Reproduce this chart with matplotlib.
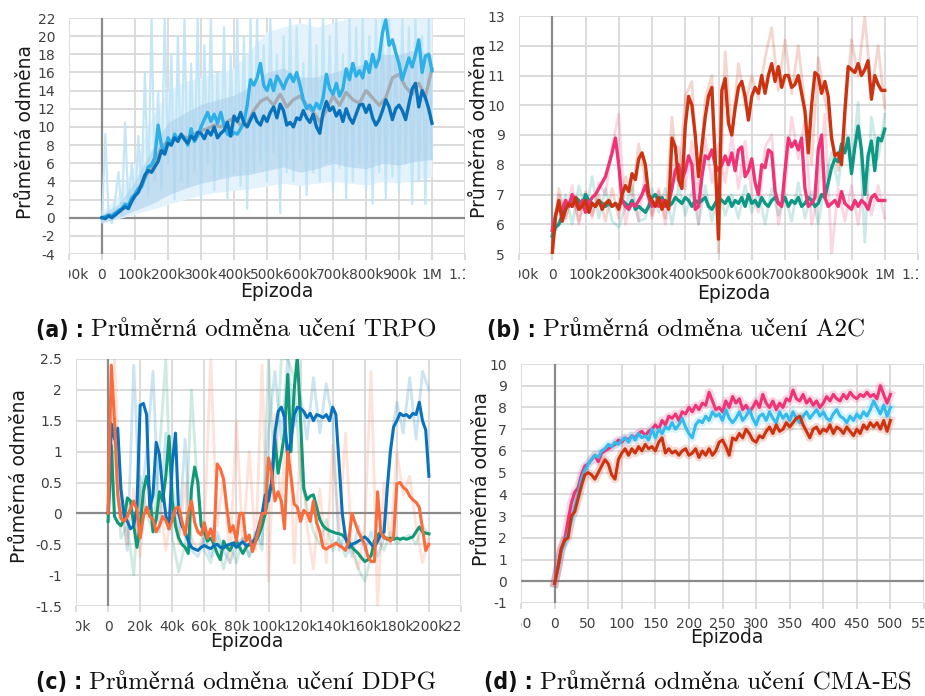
import numpy as np
import matplotlib
matplotlib.use("Agg")
import matplotlib.pyplot as plt
from matplotlib.transforms import Bbox, TransformedBbox

# ---------------- (a) TRPO ----------------
trpo_dark = [0.0, -0.1, 0.2, 0.0, 0.3, 0.6, 0.9, 1.2, 1.0, 1.8, 2.4, 2.8, 3.7, 4.7, 5.2, 5.0, 5.6, 6.2, 7.4, 7.0,
             8.2, 8.0, 8.8, 8.4, 9.2, 8.6, 8.2, 9.0, 8.6, 9.4, 9.3, 8.7, 9.6, 9.1, 10.0, 8.8, 9.3, 9.6, 10.5, 9.0,
             11.2, 10.6, 11.6, 10.4, 10.0, 10.8, 11.5, 10.6, 10.2, 11.2, 10.6, 11.6, 12.2, 11.0, 12.5, 11.8, 10.2, 10.5, 10.0, 11.0,
             10.8, 11.8, 11.0, 10.5, 11.4, 10.0, 9.3, 11.6, 12.8, 11.8, 12.2, 11.2, 11.8, 10.6, 12.0, 11.0, 10.4, 11.4, 12.4, 12.5,
             11.6, 12.4, 11.0, 10.2, 10.8, 11.8, 13.0, 12.2, 10.8, 12.0, 12.4, 11.8, 10.8, 12.5, 14.2, 14.8, 12.2, 14.0, 13.2, 12.0,
             10.4]
trpo_light = [0.0, 0.1, 0.3, 0.2, 0.5, 0.8, 1.0, 1.5, 1.3, 2.2, 2.6, 3.2, 3.4, 4.4, 5.6, 5.8, 6.6, 10.2, 8.0, 7.2,
              8.8, 8.0, 9.2, 8.6, 9.0, 8.8, 8.0, 9.8, 8.4, 9.0, 10.0, 10.8, 11.6, 10.6, 11.4, 10.4, 11.6, 10.2, 9.2, 9.0,
              9.4, 9.2, 9.8, 10.4, 12.4, 15.2, 14.6, 15.4, 17.0, 14.6, 14.0, 15.2, 14.0, 15.6, 15.0, 14.2, 15.2, 15.8, 15.0, 16.0,
              14.6, 13.0, 12.0, 12.4, 11.8, 12.6, 12.0, 13.2, 15.8, 14.2, 13.6, 14.8, 13.4, 14.2, 16.4, 15.2, 17.0, 15.6, 16.2, 15.4,
              17.2, 16.0, 18.0, 16.6, 17.6, 20.4, 21.8, 19.0, 19.6, 18.2, 17.0, 15.2, 16.4, 17.6, 16.6, 18.0, 19.6, 16.0, 17.8, 18.0,
              16.2]
trpo_gray = [0.0, 0.2, 0.4, 0.9, 1.4, 2.5, 3.8, 5.0, 6.0, 7.8, 8.4, 8.6, 9.0, 8.8, 9.2, 9.6, 9.8, 10.2, 10.0, 10.6,
             11.0, 10.2, 10.4, 11.8, 12.8, 13.2, 12.4, 13.6, 12.2, 13.0, 13.4, 12.4, 11.6, 10.6, 11.8, 13.4, 12.4, 13.8, 13.0, 12.6,
             14.0, 13.2, 12.4, 13.2, 15.4, 15.8, 14.4, 13.6, 14.8, 13.4, 16.4]
trpo_raw = [-0.5, 9.2, 0.3, -0.6, 2.0, 5.0, 0.2, 10.5, 1.0, 6.0, 1.5, 9.0, 3.0, 16.0, 2.5, 22.0, 4.0, 14.0, 3.0, 22.0,
            6.0, 18.0, 2.0, 20.0, 4.0, 22.0, 3.5, 17.0, 5.0, 22.0, 2.0, 19.0, 6.0, 22.0, 3.0, 16.0, 4.5, 21.0, 2.0, 18.0,
            5.0, 22.0, 3.5, 20.0, 1.0, 22.0, 5.0, 22.0, 6.0, 19.0, 4.0, 22.0, 7.0, 18.0, 0.5, 20.0, 5.0, 22.0, 4.0, 21.0,
            6.5, 17.0, 2.5, 22.0, 5.0, 19.0, 4.0, 22.0, 6.0, 20.0, 3.0, 22.0, 5.5, 18.0, 2.0, 22.0, 4.0, 21.0, 6.0, 22.0,
            3.0, 20.0, 1.5, 22.0, 5.0, 22.0, 2.0, 22.0, 4.5, 19.0, 3.0, 22.0, 6.0, 21.0, 1.5, 22.0, 4.0, 20.0, 1.5, 22.0,
            6.5]
# inner (darker) and outer (lighter) spread bands, every 50k
trpo_band_lo = [-0.6, 0.0, 0.8, 1.5, 2.5, 3.2, 3.8, 4.2, 4.6, 4.8, 5.2, 5.6, 5.0, 5.4, 6.0, 5.6, 5.4, 6.0, 5.8, 6.2, 6.4]
trpo_band_hi = [0.4, 1.5, 4.0, 7.5, 10.5, 11.5, 12.5, 13.0, 13.5, 14.5, 16.0, 16.5, 15.5, 15.5, 16.0, 16.5, 17.0, 18.0, 18.0, 18.5, 18.0]
trpo_outer_lo = [-0.5, -0.1, 0.4, 0.9, 1.5, 2.0, 2.5, 2.8, 3.0, 3.2, 3.5, 3.8, 3.5, 3.8, 4.0, 3.8, 3.6, 4.0, 3.8, 4.2, 4.5]
trpo_outer_hi = [0.6, 2.5, 6.0, 11.0, 14.0, 15.0, 15.5, 16.0, 16.5, 18.5, 20.5, 21.0, 21.5, 21.0, 21.5, 22.0, 22.0, 22.0, 22.0, 22.0, 22.0]

# ---------------- (b) A2C ----------------
a2c_red = [5.0, 6.3, 6.8, 6.1, 6.5, 6.7, 6.6, 6.9, 6.5, 6.6, 6.8, 6.4, 6.7, 6.6, 6.8, 6.5, 6.7, 6.8, 6.6, 6.7,
           6.5, 7.0, 7.3, 7.1, 7.7, 7.5, 8.2, 8.4, 8.0, 7.0, 6.8, 6.6, 6.9, 6.5, 6.8, 6.5, 8.9, 8.6, 7.5, 7.2,
           9.3, 10.3, 10.0, 9.0, 7.6, 8.6, 9.6, 10.3, 10.6, 8.2, 5.5, 10.5, 10.9, 9.4, 9.0, 9.9, 10.6, 10.8, 10.3, 9.5,
           10.3, 10.6, 10.4, 11.0, 10.4, 11.0, 11.4, 10.8, 11.3, 10.6, 11.0, 11.0, 10.6, 10.7, 11.0, 10.4, 9.8, 8.4, 10.0, 11.1,
           11.0, 10.4, 10.8, 10.3, 8.9, 8.3, 8.4, 8.0, 9.8, 11.3, 11.2, 11.1, 11.4, 11.0, 11.2, 11.5, 10.2, 11.0, 10.7, 10.5,
           10.5]
a2c_pink = [5.8, 6.3, 6.6, 6.5, 6.8, 6.6, 7.0, 6.7, 6.5, 6.8, 6.4, 6.7, 6.9, 7.0, 7.2, 7.4, 7.6, 8.0, 8.4, 8.9,
            8.0, 6.8, 6.6, 6.5, 6.7, 6.6, 6.8, 7.0, 7.3, 6.9, 6.6, 6.7, 6.6, 6.8, 6.6, 6.7, 7.2, 7.8, 8.0, 7.5,
            7.8, 8.3, 8.0, 6.5, 6.6, 7.6, 8.3, 8.2, 8.5, 8.0, 7.8, 8.0, 8.3, 8.0, 8.4, 7.8, 8.5, 8.6, 7.6, 7.8,
            8.2, 7.4, 7.0, 8.0, 7.9, 8.5, 8.4, 7.1, 6.7, 6.6, 7.8, 8.9, 8.6, 8.8, 8.5, 8.9, 7.2, 6.6, 6.7, 6.9,
            8.5, 9.0, 6.9, 6.6, 6.7, 6.8, 6.6, 7.1, 6.7, 6.6, 6.5, 6.8, 6.6, 6.8, 6.7, 6.5, 6.9, 7.0, 6.8, 6.8,
            6.8]
a2c_teal = [5.6, 5.9, 6.0, 6.3, 6.6, 6.7, 6.6, 6.9, 6.8, 6.6, 7.0, 6.8, 6.7, 6.6, 6.8, 6.7, 6.6, 6.7, 6.6, 6.7,
            6.6, 6.8, 6.7, 6.6, 6.8, 6.5, 6.6, 6.5, 6.4, 6.6, 6.9, 7.0, 6.8, 6.9, 6.7, 6.6, 6.7, 6.9, 6.8, 6.7,
            6.9, 6.8, 6.6, 6.8, 6.7, 6.8, 6.9, 6.6, 6.5, 6.7, 6.9, 6.8, 6.7, 6.9, 6.6, 6.8, 6.7, 6.9, 6.6, 7.0,
            6.7, 6.8, 6.6, 6.9, 6.7, 6.6, 6.8, 6.9, 6.7, 6.7, 6.9, 6.6, 6.8, 6.7, 6.9, 6.6, 6.7, 6.9, 6.8, 6.6,
            6.7, 7.0, 6.9, 7.4, 7.9, 8.2, 8.1, 8.7, 8.4, 8.9, 7.7, 8.6, 9.3, 8.5, 7.0, 8.3, 8.8, 7.8, 8.9, 8.8,
            9.2]
a2c_red_raw = [5.0, 7.2, 6.2, 7.0, 6.1, 7.1, 6.3, 7.0, 6.1, 7.2, 6.2, 7.6, 7.0, 8.7, 7.5, 6.3, 7.1, 6.2, 9.6, 7.3,
               10.3, 10.8, 7.2, 10.2, 11.0, 5.0, 11.8, 9.0, 11.4, 10.0, 11.0, 10.2, 11.6, 12.6, 10.5, 12.2, 10.4, 12.0, 10.0, 8.0,
               11.6, 10.2, 9.0, 7.8, 9.5, 12.2, 11.0, 13.0, 10.4, 12.0, 9.9]
a2c_pink_raw = [5.2, 7.0, 6.2, 7.3, 6.0, 7.0, 6.2, 7.4, 7.0, 8.6, 9.7, 6.0, 7.0, 6.1, 7.8, 6.2, 7.2, 6.0, 7.6, 8.6,
                7.2, 8.8, 6.0, 8.9, 7.4, 8.7, 7.4, 9.0, 7.2, 8.8, 7.0, 6.4, 8.6, 9.0, 6.0, 7.2, 9.6, 8.2, 9.5, 6.0,
                7.0, 9.7, 5.0, 7.2, 6.1, 7.3, 6.0, 7.5, 6.3, 7.3, 6.2]
a2c_teal_raw = [5.4, 6.1, 7.0, 6.0, 7.3, 6.4, 7.6, 6.2, 7.2, 6.1, 5.9, 6.6, 7.3, 6.1, 6.2, 7.2, 6.4, 7.2, 6.0, 7.3,
                6.3, 7.1, 6.0, 7.3, 6.1, 7.2, 6.3, 7.0, 6.2, 7.3, 6.4, 7.1, 6.0, 7.2, 6.3, 7.0, 6.1, 7.4, 6.2, 7.1,
                6.0, 7.4, 8.4, 7.3, 9.2, 7.8, 10.1, 5.4, 9.6, 8.2, 9.7]

# ---------------- (c) DDPG ----------------
ddpg_blue = [0.0, 1.45, 1.2, 1.38, 0.4, -0.03, -0.13, -0.25, -0.2, 0.1, 1.75, 1.78, 1.6, 0.08, 0.3, 1.15, 0.95, 0.4, -0.03, -0.25,
             0.8, 1.3, 0.0, -0.2, -0.3, -0.45, -0.55, -0.58, -0.6, -0.55, -0.52, -0.55, -0.57, -0.52, -0.5, -0.55, -0.56, -0.52, -0.5, -0.48,
             -0.55, -0.5, -0.46, -0.52, -0.5, -0.47, -0.4, -0.2, 0.0, 0.3, 0.2, 0.5, 1.3, 1.65, 1.72, 1.55, 0.9, 1.2, 1.6, 1.72,
             1.7, 1.65, 1.55, 1.62, 1.5, 1.6, 1.58, 1.55, 1.6, 1.5, 1.72, 1.6, 0.8, 0.0, -0.4, -0.55, -0.5, -0.48, -0.45, -0.42,
             -0.38, -0.43, -0.5, -0.55, -0.45, -0.35, -0.3, 0.4, 1.0, 1.4, 1.5, 1.62, 1.58, 1.6, 1.55, 1.62, 1.6, 1.8, 1.5, 1.35,
             0.6]
ddpg_teal = [-0.13, 1.1, -0.05, -0.15, -0.2, -0.1, 0.25, 0.2, -0.2, -0.55, -0.2, 0.35, 0.6, 0.35, -0.3, -0.1, 0.35, 0.2, 0.6, 1.25,
             0.2, -0.2, -0.4, -0.5, -0.55, -0.65, 0.4, 0.75, 0.5, -0.2, -0.3, -0.45, -0.4, -0.5, -0.65, -0.75, -0.45, -0.55, -0.6, -0.5,
             -0.45, -0.55, -0.65, -0.55, -0.5, -0.55, -0.45, -0.35, -0.2, 0.0, 0.3, 0.5, 1.2, 0.65, 0.95, 1.3, 2.25, 1.0, 2.0, 2.55,
             1.5, 0.4, 0.22, 0.28, 0.3, 0.1, -0.1, -0.2, -0.25, -0.28, -0.3, -0.32, -0.33, -0.35, -0.4, -0.45, -0.55, -0.6, -0.65, -0.72,
             -0.78, -0.75, -0.68, -0.45, -0.35, -0.3, -0.38, -0.42, -0.4, -0.42, -0.4, -0.42, -0.4, -0.42, -0.4, -0.38, -0.3, -0.22, -0.3, -0.32,
             -0.33]
ddpg_orange = [0.0, 2.4, 1.5, 0.3, -0.08, -0.13, -0.05, 0.08, 0.2, 0.05, -0.4, -0.05, 0.1, -0.05, -0.1, -0.3, -0.2, -0.05, -0.12, -0.25,
               -0.1, 0.08, 0.1, -0.12, -0.35, 0.0, 0.2, -0.15, -0.3, -0.35, -0.15, -0.4, -0.25, -0.45, 0.8, 0.72, 0.55, 0.1, -0.3, -0.2,
               -0.45, 0.0, 0.0, -0.45, -0.35, -0.62, -0.45, -0.25, 0.0, 0.0, 0.9, 0.65, 0.2, 0.35, 0.2, -0.25, 1.0, 0.6, 0.15, 0.1,
               -0.13, 0.05, 0.0, -0.13, 0.2, -0.15, -0.3, -0.55, -0.58, -0.54, -0.52, -0.48, -0.52, -0.55, -0.6, -0.45, 0.0, -0.15, -0.3, -0.4,
               -0.5, -0.7, -0.78, -0.78, 0.35, -0.3, -0.4, -0.4, -0.45, -0.38, 0.48, 0.5, 0.42, 0.38, 0.28, 0.22, 0.18, 0.1, -0.25, -0.6,
               -0.5]
ddpg_blue_raw = [0.0, 1.4, 0.2, -0.6, 2.4, 0.0, 1.0, 2.3, -0.3, 1.3, 0.5, -0.4, 1.2, -0.6, -0.7, -0.4, -0.7, -0.3, -0.6, -0.8,
                 -0.5, -0.4, -0.7, -0.3, -0.5, 1.3, 2.3, 1.2, 2.5, 1.4, 1.9, 1.2, 2.2, 1.3, 2.1, 1.5, -0.6, -0.3, -0.7, -0.2,
                 -0.6, -0.3, -0.7, -0.4, 1.1, 1.8, 1.3, 2.2, 1.2, 2.3, 2.0]
ddpg_teal_raw = [0.0, 1.0, -0.4, -0.2, -1.0, 0.6, 0.0, -0.3, 1.0, 2.5, -0.4, -0.95, -0.5, 2.0, 0.3, -0.6, -0.8, -0.4, -0.9, -0.5,
                 -0.8, -0.4, -0.7, -0.3, -0.6, 2.5, 0.5, 2.5, 2.5, 2.2, 0.6, 0.1, -0.3, -0.5, -0.1, -0.6, -0.4, -0.7, -0.5, -0.9,
                 -1.1, -0.7, -0.4, -0.6, -0.3, -0.5, -0.4, -0.35, -0.5, -0.2, -0.35]
ddpg_orange_raw = [0.0, 2.5, 0.2, -0.5, 0.4, -0.7, 0.6, -0.3, 0.3, -0.6, 0.2, -0.5, 0.5, -0.4, -0.6, -0.3, 2.5, -0.2, 0.6, -0.8,
                   1.5, -0.5, 1.0, -0.6, 2.4, -1.1, 1.6, 0.0, 2.2, -0.8, 1.2, -0.2, -0.9, 0.4, -0.8, 1.1, -0.3, 1.3, -0.6, -0.9,
                   -0.2, 2.3, -1.5, 0.5, -0.5, 1.0, 0.3, 0.6, -0.2, -0.8, -0.4]

# ---------------- (d) CMA-ES ----------------
cma_red = [-0.1, 0.6, 1.5, 1.9, 2.0, 3.0, 3.2, 3.8, 4.4, 4.9, 5.0, 4.9, 4.7, 5.0, 5.3, 5.6, 5.4, 4.9, 4.7, 5.6,
           5.9, 6.1, 5.8, 6.1, 5.9, 6.2, 6.0, 6.3, 6.1, 6.2, 6.0, 6.4, 6.6, 5.9, 6.1, 5.9, 6.0, 5.8, 6.0, 6.1,
           5.8, 5.9, 6.1, 5.7, 6.0, 5.8, 6.1, 5.8, 6.0, 6.4, 6.5, 6.2, 5.8, 6.6, 6.5, 6.8, 6.6, 7.0, 6.8, 6.5,
           6.4, 6.7, 6.6, 6.9, 7.1, 6.8, 7.2, 6.9, 7.0, 7.3, 7.1, 7.3, 7.5, 7.6, 7.2, 6.9, 6.6, 7.0, 7.1, 6.8,
           7.0, 6.9, 7.2, 6.8, 7.1, 7.0, 6.8, 7.1, 6.9, 6.7, 7.0, 6.8, 7.2, 7.0, 7.3, 7.1, 7.3, 7.0, 7.4, 6.9,
           7.4]
cma_pink = [-0.1, 0.7, 1.5, 1.9, 2.8, 3.6, 4.1, 4.3, 4.9, 5.3, 5.4, 5.6, 5.8, 5.5, 5.9, 6.0, 6.1, 6.2, 6.3, 6.5,
            6.4, 6.6, 6.5, 6.7, 6.6, 6.8, 6.9, 6.7, 6.9, 7.0, 7.2, 7.0, 7.4, 7.2, 7.6, 7.5, 7.7, 7.4, 7.8, 7.7,
            8.0, 7.8, 8.1, 7.9, 8.2, 8.1, 8.7, 8.3, 7.9, 8.0, 7.8, 8.3, 8.0, 8.5, 8.2, 8.4, 7.9, 8.1, 7.8, 8.0,
            8.3, 8.0, 8.6, 8.2, 8.0, 8.3, 7.9, 8.2, 8.0, 8.4, 8.3, 8.8, 8.4, 8.3, 8.6, 8.2, 8.4, 8.1, 8.3, 8.0,
            8.2, 8.5, 8.3, 8.6, 8.4, 8.3, 8.6, 8.4, 8.7, 8.5, 8.4, 8.6, 8.5, 8.7, 8.5, 8.6, 8.4, 9.0, 8.6, 8.2,
            8.6]
cma_blue = [-0.1, 0.6, 1.4, 1.8, 2.2, 2.8, 3.4, 4.0, 4.7, 5.1, 5.4, 5.6, 5.8, 5.7, 6.0, 6.1, 6.3, 6.2, 6.4, 6.3,
            6.5, 6.6, 6.4, 6.7, 6.5, 6.8, 6.6, 6.7, 6.5, 7.0, 6.6, 7.0, 6.8, 7.1, 7.0, 7.3, 7.0, 7.2, 7.5, 7.1,
            6.8, 6.6, 7.2, 7.4, 7.3, 7.6, 7.4, 7.8, 7.6, 7.7, 7.4, 7.9, 7.5, 7.3, 7.5, 7.8, 7.4, 7.6, 7.9, 7.5,
            7.2, 7.6, 7.7, 7.4, 7.8, 7.5, 7.3, 7.8, 7.5, 7.7, 7.4, 7.8, 7.5, 7.3, 7.6, 7.8, 7.5, 7.7, 7.9, 7.6,
            7.8, 7.5, 7.4, 7.7, 7.9, 7.6, 7.5, 7.3, 7.6, 7.4, 7.7, 7.5, 7.8, 7.6, 7.9, 8.3, 8.0, 7.7, 8.1, 7.6,
            8.0]

# tick labels
k_labels = ["-100k", "0", "100k", "200k", "300k", "400k", "500k", "600k", "700k", "800k", "900k", "1M", "1.1M"]
ddpg_labels = ["-20k", "0", "20k", "40k", "60k", "80k", "100k", "120k", "140k", "160k", "180k", "200k", "220k"]
cma_labels = ["-50", "0", "50", "100", "150", "200", "250", "300", "350", "400", "450", "500", "550"]
ylab_text = "Průměrná odměna"
xlab_text = "Epizoda"
captions = [("(a)", "Průměrná odměna učení TRPO"), ("(b)", "Průměrná odměna učení A2C"),
            ("(c)", "Průměrná odměna učení DDPG"), ("(d)", "Průměrná odměna učení CMA-ES")]

W, H = 925, 696
fig = plt.figure(figsize=(W / 100, H / 100), dpi=100)
fig.patch.set_facecolor("white")

GRID = "#d9d9d9"
ZERO = "#8a8a8a"
TICKC = "#404040"


def ax_px(l, t, r, b):
    return fig.add_axes([l / W, 1 - b / H, (r - l) / W, (b - t) / H])


def style(ax, xlim, ylim, xticks, xlabels, yticks, ylabels, ylab_x, ylab_y, xlab_x, xlab_y, zero_h=True):
    ax.set_xlim(xlim)
    ax.set_ylim(ylim)
    ax.set_xticks(xticks)
    ax.set_xticklabels(xlabels)
    ax.set_yticks(yticks)
    ax.set_yticklabels(ylabels)
    for s in ax.spines.values():
        s.set_visible(False)
    ax.grid(True, color=GRID, lw=1.3)
    ax.set_axisbelow(True)
    ax.tick_params(axis="x", length=4, color=GRID, width=1.3, pad=6, labelsize=10, labelcolor=TICKC)
    ax.tick_params(axis="y", length=0, pad=10, labelsize=10, labelcolor=TICKC)
    ax.axvline(0, color=ZERO, lw=1.6, zorder=1)
    if zero_h:
        ax.axhline(0, color=ZERO, lw=1.6, zorder=1)
    ax.set_ylabel(ylab_text, fontsize=13.5, va="center", color="#1a1a1a")
    ax.yaxis.set_label_coords(ylab_x, ylab_y)
    ax.set_xlabel(xlab_text, fontsize=13.5, va="center", color="#1a1a1a")
    ax.xaxis.set_label_coords(xlab_x, xlab_y)
    clip = TransformedBbox(Bbox([[0, -2], [1, 0.5]]), ax.transAxes)
    for t in ax.get_xticklabels():
        t.set_clip_box(clip)
        t.set_clip_on(True)


# ---- (a)
axa = ax_px(69, 18, 465, 254)
xband = np.linspace(0, 1_000_000, len(trpo_band_lo))
axa.fill_between(xband, trpo_outer_lo, trpo_outer_hi, color="#e3f2fb", lw=0, zorder=2)
axa.plot(np.linspace(0, 1_000_000, len(trpo_raw)), trpo_raw, color="#bfe4f7", lw=1.6, alpha=0.9, zorder=2)
axa.fill_between(xband, trpo_band_lo, trpo_band_hi, color="#a9cfea", alpha=0.55, lw=0, zorder=2)
axa.plot(np.linspace(0, 1_000_000, len(trpo_gray)), trpo_gray, color="#a3acb4", lw=2.4, zorder=3)
axa.plot(np.linspace(0, 1_000_000, len(trpo_light)), trpo_light, color="#2db0e6", lw=2.4, zorder=4)
axa.plot(np.linspace(0, 1_000_000, len(trpo_dark)), trpo_dark, color="#0a72bb", lw=2.4, zorder=5)
style(axa, (-100000, 1100000), (-4, 22), np.arange(-100000, 1100001, 100000), k_labels,
      np.arange(-4, 23, 2), [str(v) for v in range(-4, 23, 2)], -0.111, 0.517, 0.525, -0.157)

# ---- (b)
axb = ax_px(519, 16, 918, 254)
for raw, col in [(a2c_teal_raw, "#009988"), (a2c_pink_raw, "#ee3377"), (a2c_red_raw, "#cc3311")]:
    axb.plot(np.linspace(0, 1_000_000, len(raw)), raw, color=col, lw=2.0, alpha=0.2, zorder=2)
axb.plot(np.linspace(0, 1_000_000, len(a2c_teal)), a2c_teal, color="#0e9784", lw=2.4, zorder=3)
axb.plot(np.linspace(0, 1_000_000, len(a2c_pink)), a2c_pink, color="#ee3377", lw=2.4, zorder=4)
axb.plot(np.linspace(0, 1_000_000, len(a2c_red)), a2c_red, color="#cc3311", lw=2.4, zorder=5)
style(axb, (-100000, 1100000), (5, 13), np.arange(-100000, 1100001, 100000), k_labels,
      np.arange(5, 14, 1), [str(v) for v in range(5, 14)], -0.100, 0.517, 0.539, -0.164, zero_h=False)

# ---- (c)
axc = ax_px(76, 359, 461, 606)
for raw, col in [(ddpg_teal_raw, "#119977"), (ddpg_blue_raw, "#0077bb"), (ddpg_orange_raw, "#ff7043")]:
    axc.plot(np.linspace(0, 200_000, len(raw)), raw, color=col, lw=2.0, alpha=0.2, zorder=2)
axc.plot(np.linspace(0, 200_000, len(ddpg_teal)), ddpg_teal, color="#119977", lw=2.2, zorder=3)
axc.plot(np.linspace(0, 200_000, len(ddpg_blue)), ddpg_blue, color="#0a72bb", lw=2.2, zorder=4)
axc.plot(np.linspace(0, 200_000, len(ddpg_orange)), ddpg_orange, color="#fb6c3c", lw=2.2, zorder=5)
style(axc, (-20000, 220000), (-1.5, 2.5), np.arange(-20000, 220001, 20000), ddpg_labels,
      np.arange(-1.5, 2.51, 0.5), ["-1.5", "-1", "-0.5", "0", "0.5", "1", "1.5", "2", "2.5"],
      -0.148, 0.527, 0.444, -0.142)

# ---- (d)
axd = ax_px(521, 364, 924, 603)
xd = np.linspace(0, 500, len(cma_red))
for ser, col, z in [(cma_pink, "#ee3377", 3), (cma_blue, "#33bbee", 4), (cma_red, "#cc3311", 5)]:
    axd.plot(xd, ser, color=col, lw=6, alpha=0.18, zorder=2)
    axd.plot(xd, ser, color=col, lw=2.2, zorder=z)
style(axd, (-50, 550), (-1, 10), np.arange(-50, 551, 50), cma_labels,
      np.arange(-1, 11, 1), [str(v) for v in range(-1, 11)], -0.099, 0.519, 0.511, -0.146)

# ---- captions
renderer = fig.canvas.get_renderer()
cap_pos = [(36, 330), (487, 330), (36, 683), (484, 683)]
for (lab, txt), (cx, cy) in zip(captions, cap_pos):
    t1 = fig.text(cx / W, 1 - cy / H, lab + " :", fontsize=16.5, fontweight="bold", fontstretch="condensed",
                  family=["DejaVu Sans"], va="center", color="#111111")
    bb = t1.get_window_extent(renderer)
    fig.text((bb.x1 + 7) / W, 1 - cy / H, txt, fontsize=18,
             family=["cmr10", "STIXGeneral"], va="center", color="#111111")

fig.savefig("out.png", dpi=100, facecolor="white")
